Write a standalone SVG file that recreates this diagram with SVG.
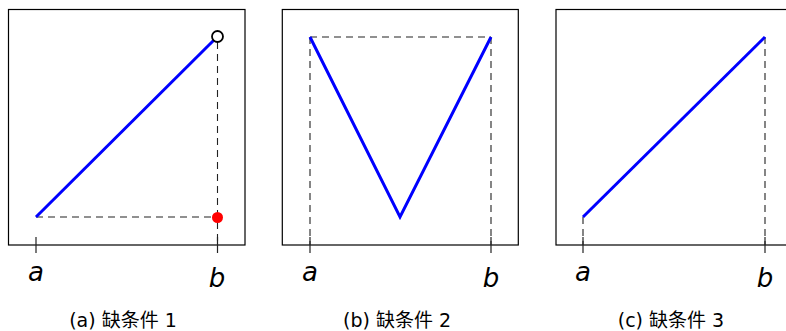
<svg xmlns="http://www.w3.org/2000/svg" width="786" height="331" viewBox="0 0 786 331">
<style>
.frame{fill:none;stroke:#000;stroke-width:1.2}
.curve{fill:none;stroke:#0000ff;stroke-width:3;stroke-linejoin:miter;stroke-linecap:butt}
.dash{fill:none;stroke:#222;stroke-width:1.1;stroke-dasharray:7,5}
.tick{stroke:#222;stroke-width:1.2}
.lab{font-family:"DejaVu Sans",sans-serif;font-style:italic;font-size:26px;fill:#000;text-anchor:middle}
.cap{font-family:"DejaVu Sans","Noto Sans CJK SC",sans-serif;font-size:19px;fill:#000;text-anchor:middle}
</style>
<rect width="786" height="331" fill="#fff"/>
<g id="panel-a">
  <rect class="frame" x="8.5" y="9.5" width="236.5" height="235.5"/>
  <g id="connectors-a">
    <path class="dash" d="M36 217 H217.5"/>
    <path class="dash" d="M217.5 42 V245"/>
    <path class="curve" d="M36 217 L213.5 40.5"/>
  </g>
  <circle cx="217.5" cy="36.5" r="5.5" fill="none" stroke="#000" stroke-width="1.8"/>
  <circle cx="217.5" cy="217.5" r="5.5" fill="#ff0000"/>
  <line class="tick" x1="36" y1="237" x2="36" y2="253"/>
  <line class="tick" x1="217.5" y1="237" x2="217.5" y2="253"/>
  <text class="lab" x="36" y="281">a</text>
  <text class="lab" x="217" y="287">b</text>
  <text class="cap" x="123" y="327">(a) 缺条件 1</text>
</g>
<g id="panel-b">
  <rect class="frame" x="282.3" y="9.5" width="236" height="235.5"/>
  <g id="connectors-b">
    <path class="dash" d="M310 37 H491"/>
    <path class="dash" d="M310 37 V245"/>
    <path class="dash" d="M491 37 V245"/>
    <path class="curve" d="M310 37 L400 217 L491 37"/>
  </g>
  <line class="tick" x1="310" y1="237" x2="310" y2="253"/>
  <line class="tick" x1="491" y1="237" x2="491" y2="253"/>
  <text class="lab" x="310" y="281">a</text>
  <text class="lab" x="491" y="287">b</text>
  <text class="cap" x="397" y="327">(b) 缺条件 2</text>
</g>
<g id="panel-c">
  <rect class="frame" x="556" y="9.5" width="236" height="235.5"/>
  <g id="connectors-c">
    <path class="dash" d="M583 217 V245"/>
    <path class="dash" d="M765 37 V245"/>
    <path class="curve" d="M583 217 L765 37"/>
  </g>
  <line class="tick" x1="583" y1="237" x2="583" y2="253"/>
  <line class="tick" x1="765" y1="237" x2="765" y2="253"/>
  <text class="lab" x="583" y="281">a</text>
  <text class="lab" x="765" y="287">b</text>
  <text class="cap" x="671" y="327">(c) 缺条件 3</text>
</g>
</svg>
